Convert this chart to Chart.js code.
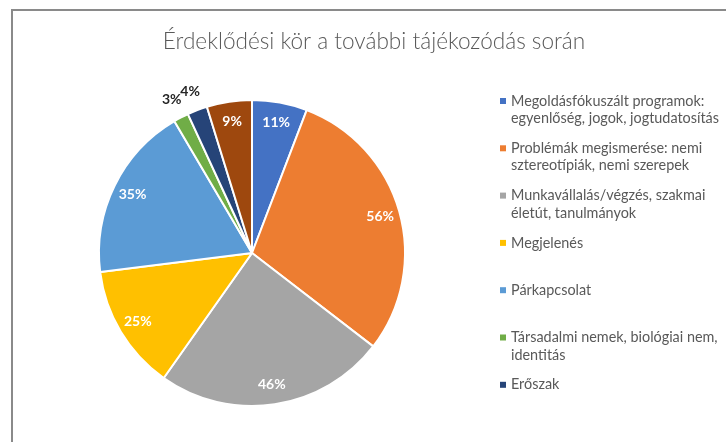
<!DOCTYPE html>
<html lang="hu">
<head>
  <meta charset="UTF-8">
  <title>Érdeklődési kör</title>
  <script src="https://cdn.jsdelivr.net/npm/chart.js"></script>
  <style>
    html, body { margin: 0; padding: 0; background: #fff; }
    #wrap { position: relative; width: 726px; height: 442px; }
  </style>
</head>
<body>
  <div id="wrap"><canvas id="pieChart" width="726" height="442"></canvas></div>

  <script>
    const chartTitle = 'Érdeklődési kör a további tájékozódás során';

    const categories = [
      'Megoldásfókuszált programok: egyenlőség, jogok, jogtudatosítás',
      'Problémák megismerése: nemi sztereotípiák, nemi szerepek',
      'Munkavállalás/végzés, szakmai életút, tanulmányok',
      'Megjelenés',
      'Párkapcsolat',
      'Társadalmi nemek, biológiai nem, identitás',
      'Erőszak',
      'Egyéb'
    ];

    // legend text as it wraps in the picture (last slice has no legend entry)
    const legendLines = [
      ['Megoldásfókuszált programok:', 'egyenlőség, jogok, jogtudatosítás'],
      ['Problémák megismerése: nemi', 'sztereotípiák, nemi szerepek'],
      ['Munkavállalás/végzés, szakmai', 'életút, tanulmányok'],
      ['Megjelenés'],
      ['Párkapcsolat'],
      ['Társadalmi nemek, biológiai nem,', 'identitás'],
      ['Erőszak']
    ];

    const percents = [11, 56, 46, 25, 35, 3, 4, 9];

    const colors = ['#4472C4', '#ED7D31', '#A5A5A5', '#FFC000', '#5B9BD5', '#70AD47', '#264478', '#9E480E'];

    const FONT = 'Lato, "Open Sans", "Noto Sans", sans-serif';

    // pick a font size so that a text gets a given width
    function fitFont(ctx, weight, text, width) {
      ctx.font = weight + ' 20px ' + FONT;
      const s = 20 * width / ctx.measureText(text).width;
      return weight + ' ' + s.toFixed(1) + 'px ' + FONT;
    }

    const framePlugin = {
      id: 'frame',
      beforeDraw(chart) {
        const ctx = chart.ctx;
        ctx.save();
        ctx.strokeStyle = '#8a8a8a';
        ctx.lineWidth = 2;
        ctx.beginPath();
        ctx.moveTo(12, 442);
        ctx.lineTo(12, 10);
        ctx.lineTo(726, 10);
        ctx.stroke();

        ctx.fillStyle = '#595959';
        ctx.textAlign = 'center';
        ctx.textBaseline = 'middle';
        ctx.font = fitFont(ctx, '300', chartTitle, 422);
        ctx.fillText(chartTitle, 374, 42);
        ctx.restore();
      }
    };

    const labelPlugin = {
      id: 'sliceLabels',
      afterDatasetsDraw(chart) {
        const ctx = chart.ctx;
        const meta = chart.getDatasetMeta(0);
        ctx.save();
        ctx.textAlign = 'center';
        ctx.textBaseline = 'middle';
        ctx.font = 'bold 14px ' + FONT;
        meta.data.forEach((arc, i) => {
          const p = arc.getProps(['x', 'y', 'startAngle', 'endAngle', 'outerRadius']);
          const mid = (p.startAngle + p.endAngle) / 2;
          const small = percents[i] < 5;
          const d = small ? p.outerRadius + 20 : p.outerRadius * 0.87;
          ctx.fillStyle = small ? '#262626' : '#ffffff';
          ctx.fillText(percents[i] + '%', p.x + Math.cos(mid) * d, p.y + Math.sin(mid) * d);
        });
        ctx.restore();
      }
    };

    const legendPlugin = {
      id: 'sideLegend',
      afterDraw(chart) {
        const ctx = chart.ctx;
        const bg = chart.data.datasets[0].backgroundColor;
        ctx.save();
        ctx.font = fitFont(ctx, '400', legendLines[0][1], 208);
        ctx.textAlign = 'left';
        ctx.textBaseline = 'middle';
        legendLines.forEach((lines, i) => {
          const y0 = 101 + i * 47.3;
          ctx.fillStyle = bg[i];
          ctx.fillRect(500, y0 - 3, 6, 6);
          ctx.fillStyle = '#595959';
          lines.forEach((t, j) => ctx.fillText(t, 511, y0 + j * 17.5));
        });
        ctx.restore();
      }
    };

    new Chart(document.getElementById('pieChart'), {
      type: 'pie',
      data: {
        labels: categories,
        datasets: [{
          data: percents,
          backgroundColor: colors,
          borderColor: '#ffffff',
          borderWidth: 2
        }]
      },
      options: {
        responsive: false,
        animation: false,
        layout: { padding: { left: 98, top: 98, right: 320, bottom: 34 } },
        plugins: {
          legend: { display: false },
          title: { display: false },
          tooltip: { enabled: false }
        }
      },
      plugins: [framePlugin, labelPlugin, legendPlugin]
    });
  </script>
</body>
</html>
